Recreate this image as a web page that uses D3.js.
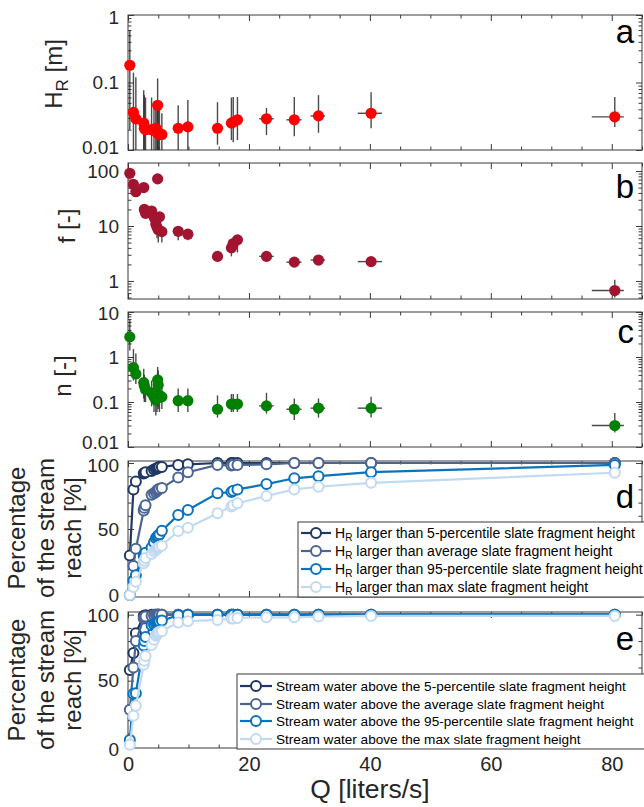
<!DOCTYPE html>
<html><head><meta charset="utf-8">
<script src="https://cdn.jsdelivr.net/npm/d3@7"></script>
<style>
body{margin:0;background:#fff}
svg{display:block;font-family:"Liberation Sans",Arial,Helvetica,sans-serif}
</style>
</head><body>
<svg id="chart" width="644" height="807"></svg>
<script>
// ---------------- DATA ----------------
const Q     = [0.3, 0.9, 1.3, 2.6, 2.7, 2.9, 3.9, 4.3, 4.6, 4.8, 4.9, 5.0, 5.2, 5.6, 8.3, 9.9, 14.8, 17.1, 17.4, 18.1, 22.9, 27.5, 31.5, 40.2, 80.5];
const qLo   = [0.3, 0.9, 1.3, 2.6, 2.7, 2.9, 3.9, 4.3, 4.6, 4.8, 4.9, 5.0, 5.2, 5.6, 8.3, 9.9, 14.8, 16.6, 17.1, 17.8, 21.7, 26.2, 30.2, 38.0, 76.7];
const qHi   = [0.3, 0.9, 1.3, 2.6, 2.7, 2.9, 3.9, 4.3, 4.6, 4.8, 4.9, 5.0, 5.2, 5.6, 8.3, 9.9, 14.8, 17.4, 17.7, 18.4, 24.1, 28.7, 32.6, 42.0, 82.0];

const HR    = [0.18, 0.036, 0.029, 0.025, 0.021, 0.020, 0.020, 0.0198, 0.021, 0.018, 0.046, 0.018, 0.017, 0.017, 0.021, 0.022, 0.021, 0.025, 0.026, 0.028, 0.029, 0.028, 0.032, 0.035, 0.031];
const HRlo  = [0.02, 0.005, 0.005, 0.005, 0.005, 0.005, 0.005, 0.005, 0.005, 0.005, 0.005, 0.005, 0.005, 0.005, 0.010, 0.010, 0.012, 0.014, 0.013, 0.014, 0.0166, 0.016, 0.018, 0.021, 0.022];
const HRhi  = [0.6, 0.14, 0.12, 0.077, 0.065, 0.06, 0.06, 0.05, 0.05, 0.05, 0.115, 0.045, 0.04, 0.035, 0.046, 0.055, 0.051, 0.06, 0.061, 0.061, 0.042, 0.061, 0.065, 0.072, 0.061];

const fVal  = [91, 57, 42, 50, 20, 17, 18.7, 14.4, 10.9, 9.5, 72, 8.5, 14.7, 7.9, 8.0, 7.1, 2.8, 4.0, 4.8, 5.6, 2.8, 2.2, 2.4, 2.25, 0.67];
const fLo   = [85, 50, 38, 45, 17, 15, 16, 12, 8, 6, 60, 5, 10, 5, 5.5, 5.5, 2.5, 2.8, 3.3, 3.3, 2.3, 1.8, 2.0, 2.0, 0.5];
const fHi   = [98, 62, 46, 55, 23, 19, 21, 16, 12, 11, 80, 10, 16, 9, 9, 8, 3.5, 4.5, 5.5, 6.0, 3.5, 2.6, 2.8, 2.5, 1.05];

const nVal  = [2.8, 0.58, 0.42, 0.27, 0.23, 0.19, 0.16, 0.13, 0.11, 0.13, 0.31, 0.24, 0.14, 0.13, 0.107, 0.107, 0.069, 0.09, 0.09, 0.09, 0.082, 0.069, 0.073, 0.073, 0.030];
const nLo   = [1.4, 0.3, 0.25, 0.12, 0.1, 0.1, 0.08, 0.06, 0.05, 0.06, 0.08, 0.07, 0.06, 0.07, 0.06, 0.06, 0.045, 0.06, 0.06, 0.06, 0.055, 0.04, 0.045, 0.045, 0.021];
const nHi   = [6.6, 1.5, 1.2, 0.55, 0.4, 0.35, 0.3, 0.3, 0.25, 0.25, 0.6, 0.5, 0.3, 0.25, 0.2, 0.2, 0.14, 0.15, 0.15, 0.15, 0.16, 0.12, 0.12, 0.13, 0.057];

// panel d: percentage of reach where H_R exceeds slate fragment height
const d5pct  = [30, 80, 86, 92, 92.5, 93, 94, 95, 95.5, 96, 96, 96.5, 97, 97, 98.5, 99, 100, 100, 100, 100, 100, 100, 100, 100, 100];
const dAvg   = [0, 22, 35, 64, 66, 68, 76, 77, 78, 79, 79.5, 80, 80.5, 81, 89, 93, 98.5, 98, 98.5, 98.5, 99, 100, 100, 100, 100];
const d95pct = [0, 11, 15, 29.5, 31, 32, 36, 40, 43, 44, 44.5, 45, 46, 48.7, 60.6, 64.4, 77, 78, 79, 80, 84, 88.4, 90, 93, 98.5];
const dMax   = [0, 6, 10, 24, 26, 28, 31, 33, 34, 35, 35.5, 36, 36.6, 37.4, 48.5, 51, 62, 67, 68, 69.5, 75, 80, 82, 85, 92.6];

// panel e: percentage of reach where stream water is above slate fragment height
const e5pct  = [58, 71, 86, 99, 99, 99.5, 100, 100, 100, 100, 100, 100, 100, 100, 100, 100, 100, 100, 100, 100, 100, 100, 100, 100, 100];
const eAvg   = [28, 60, 80, 97, 98, 98.5, 99, 99.5, 100, 100, 100, 100, 100, 100, 100, 100, 100, 100, 100, 100, 100, 100, 100, 100, 100];
const e95pct = [5, 40, 40.5, 76.7, 80, 83, 92, 92.5, 93, 93.5, 94, 94.5, 95, 95.5, 99.5, 100, 100, 100, 100, 100, 100, 100, 100, 100, 100];
const eMax   = [1.5, 23.5, 31, 62, 65, 68.6, 77, 81, 84, 85, 86, 86.5, 87, 87.4, 94, 95, 96, 97, 97, 97.5, 98, 98, 98.5, 99, 99];

const legendD = ["larger than 5-percentile slate fragment height", "larger than average slate fragment height",
                 "larger than 95-percentile slate fragment height", "larger than max slate fragment height"];
const legendE = ["Stream water above the 5-percentile slate fragment height", "Stream water above the average slate fragment height",
                 "Stream water above the 95-percentile slate fragment height", "Stream water above the max slate fragment height"];

const xTicks = [0, 20, 40, 60, 80];
const aTicks = [0.01, 0.1, 1];
const bTicks = [1, 10, 100];
const cTicks = [0.01, 0.1, 1, 10];
const pTicks = [0, 50, 100];

// ---------------- STYLE / LAYOUT ----------------
const seriesColors = ["#1f3864", "#4b6595", "#0b72bd", "#c2daf1"];
const AX = "#3a3a3a", TXT = "#262626";
const X0 = 128, X1 = 642;
const svg = d3.select("#chart");
const x = d3.scaleLinear().domain([0, 85]).range([X0, X1]);

const defsEl = svg.append("defs");

function makeY(type, domain, top, bottom) {
  return (type === "log" ? d3.scaleLog() : d3.scaleLinear()).domain(domain).range([bottom, top]);
}
function logMinor(domain) {
  const out = [];
  for (let e = -3; e <= 3; e++) for (let m = 2; m <= 9; m++) {
    const v = m * Math.pow(10, e);
    if (v >= domain[0] && v <= domain[1]) out.push(v);
  }
  return out;
}

// shiftTop / shiftBot: nudge of the tick label sitting at the top / bottom edge
function frame(id, y, top, bottom, major, minor, showX, shiftTop, shiftBot) {
  const g = svg.append("g");
  const fmt = d3.format("~g");
  const left = g.append("g").attr("transform", `translate(${X0},0)`)
    .call(d3.axisLeft(y).tickValues(major).tickSize(-6).tickPadding(9).tickFormat(fmt));
  left.selectAll("text").attr("font-size", 19).attr("fill", TXT).attr("font-family", "Liberation Sans, Arial, sans-serif")
    .attr("transform", d => {
      const py = y(d);
      if (Math.abs(py - top) < 3) return `translate(0,${shiftTop})`;
      if (Math.abs(py - bottom) < 3) return `translate(0,${shiftBot})`;
      return null;
    });
  g.append("g").attr("transform", `translate(${X0},0)`)
    .call(d3.axisLeft(y).tickValues(minor).tickSize(-3.5).tickFormat(""));
  g.append("g").attr("transform", `translate(${X1},0)`)
    .call(d3.axisRight(y).tickValues(major).tickSize(-6).tickFormat(""));
  g.append("g").attr("transform", `translate(${X1},0)`)
    .call(d3.axisRight(y).tickValues(minor).tickSize(-3.5).tickFormat(""));
  const xMinor = d3.range(5, 86, 5).filter(v => v % 20 !== 0);
  const bot = g.append("g").attr("transform", `translate(0,${bottom})`)
    .call(d3.axisBottom(x).tickValues(xTicks).tickSize(-6).tickPadding(9).tickFormat(showX ? fmt : ""));
  bot.selectAll("text").attr("font-size", 20).attr("fill", TXT).attr("font-family", "Liberation Sans, Arial, sans-serif");
  g.append("g").attr("transform", `translate(0,${bottom})`)
    .call(d3.axisBottom(x).tickValues(xMinor).tickSize(-3.5).tickFormat(""));
  g.append("g").attr("transform", `translate(0,${top})`)
    .call(d3.axisTop(x).tickValues(xTicks).tickSize(-6).tickFormat(""));
  g.append("g").attr("transform", `translate(0,${top})`)
    .call(d3.axisTop(x).tickValues(xMinor).tickSize(-3.5).tickFormat(""));
  g.selectAll(".domain").remove();
  g.selectAll(".tick line").attr("stroke", AX).attr("stroke-width", 1);
  g.append("rect").attr("x", X0).attr("y", top).attr("width", X1 - X0).attr("height", bottom - top)
    .attr("fill", "none").attr("stroke", AX).attr("stroke-width", 1);
  defsEl.append("clipPath").attr("id", "clip" + id)
    .append("rect").attr("x", X0).attr("y", top).attr("width", X1 - X0).attr("height", bottom - top);
}

function errorPanel(id, y, vals, lo, hi, color) {
  const g = svg.append("g");
  const eb = g.append("g").attr("clip-path", `url(#clip${id})`)
    .attr("stroke", "#2b2b2b").attr("stroke-width", 1.4).attr("stroke-opacity", 0.85);
  eb.selectAll("line.v").data(Q).join("line").attr("class", "v")
    .attr("x1", d => x(d)).attr("x2", d => x(d))
    .attr("y1", (d, i) => y(lo[i])).attr("y2", (d, i) => y(hi[i]));
  eb.selectAll("line.h").data(Q).join("line").attr("class", "h")
    .attr("x1", (d, i) => x(qLo[i])).attr("x2", (d, i) => x(qHi[i]))
    .attr("y1", (d, i) => y(vals[i])).attr("y2", (d, i) => y(vals[i]));
  g.selectAll("circle").data(Q).join("circle")
    .attr("cx", d => x(d)).attr("cy", (d, i) => y(vals[i])).attr("r", 5.6).attr("fill", color);
}

function linePanel(y, series) {
  const g = svg.append("g");
  series.forEach((s, k) => {
    const line = d3.line().x((d, i) => x(Q[i])).y(d => y(d));
    g.append("path").datum(s).attr("d", line).attr("fill", "none")
      .attr("stroke", seriesColors[k]).attr("stroke-width", 2.2);
    g.append("g").selectAll("circle").data(s).join("circle")
      .attr("cx", (d, i) => x(Q[i])).attr("cy", d => y(d)).attr("r", 5)
      .attr("fill", "#fff").attr("stroke", seriesColors[k]).attr("stroke-width", 2);
  });
}

function panelLetter(t, yb) {
  svg.append("text").attr("x", 634).attr("y", yb).attr("text-anchor", "end")
    .attr("font-size", 33).attr("fill", "#000").text(t);
}

function legend(bx, by, bh, texts, withHR, fs, symW, rowY) {
  const g = svg.append("g");
  g.append("rect").attr("x", bx).attr("y", by).attr("width", 700 - bx).attr("height", bh)
    .attr("fill", "#fff").attr("stroke", AX).attr("stroke-width", 1);
  texts.forEach((t, k) => {
    const yy = rowY[k];
    g.append("line").attr("x1", bx + 3).attr("x2", bx + 3 + symW).attr("y1", yy).attr("y2", yy)
      .attr("stroke", seriesColors[k]).attr("stroke-width", 2.2);
    g.append("circle").attr("cx", bx + 3 + symW / 2).attr("cy", yy).attr("r", 5)
      .attr("fill", "#fff").attr("stroke", seriesColors[k]).attr("stroke-width", 2);
    const tx = g.append("text").attr("x", bx + symW + 7).attr("y", yy + fs * 0.36)
      .attr("font-size", fs).attr("fill", "#000");
    if (withHR) {
      tx.append("tspan").text("H");
      tx.append("tspan").attr("font-size", fs * 0.72).attr("dy", 3).text("R");
      tx.append("tspan").attr("dy", -3).text(" " + t);
    } else tx.text(t);
  });
}

function yLabelLines(lines, cy, xs, fs) {
  lines.forEach((t, k) => {
    svg.append("text").attr("transform", `translate(${xs[k]},${cy}) rotate(-90)`)
      .attr("text-anchor", "middle").attr("font-size", fs).attr("fill", TXT).text(t);
  });
}

// ---------------- PANEL a ----------------
const ya = makeY("log", [0.01, 1], 15, 150);
frame("a", ya, 15, 150, aTicks, logMinor([0.01, 1]), false, 2, -3);
errorPanel("a", ya, HR, HRlo, HRhi, "#ff0000");
panelLetter("a", 43);
{
  const t = svg.append("text").attr("transform", "translate(62,74) rotate(-90)")
    .attr("text-anchor", "middle").attr("font-size", 24).attr("fill", TXT);
  t.append("tspan").text("H");
  t.append("tspan").attr("font-size", 17).attr("dy", 6).text("R");
  t.append("tspan").attr("dy", -6).text(" [m]");
}

// ---------------- PANEL b ----------------
const yb = makeY("log", [0.47, 140], 163, 299);
frame("b", yb, 163, 299, bTicks, logMinor([0.47, 140]), false, 0, 0);
errorPanel("b", yb, fVal, fLo, fHi, "#a2142f");
panelLetter("b", 198);
yLabelLines(["f [-]"], 226, [75], 24);

// ---------------- PANEL c ----------------
const yc = makeY("log", [0.01, 10], 312, 447);
frame("c", yc, 312, 447, cTicks, logMinor([0.01, 10]), false, 1, -5);
errorPanel("c", yc, nVal, nLo, nHi, "#008000");
panelLetter("c", 343);
yLabelLines(["n [-]"], 376, [71], 24);

// ---------------- PANEL d ----------------
const yd = makeY("lin", [-1.5, 101.5], 461, 597);
frame("d", yd, 461, 597, pTicks, d3.range(10, 100, 10).filter(v => v !== 50), false, 2, 0);
linePanel(yd, [d5pct, dAvg, d95pct, dMax]);
panelLetter("d", 508);
legend(298, 522, 75, legendD, true, 14, 30, [533, 551, 569, 587]);
yLabelLines(["Percentage", "of the stream", "reach [%]"], 528, [25, 54, 81], 24);

// ---------------- PANEL e ----------------
const ye = makeY("lin", [-1, 102], 612, 748);
frame("e", ye, 612, 748, pTicks, d3.range(10, 100, 10).filter(v => v !== 50), true, 1, 3);
linePanel(ye, [e5pct, eAvg, e95pct, eMax]);
panelLetter("e", 650);
legend(237, 674, 75, legendE, false, 13.6, 32, [686, 704, 721, 739]);
yLabelLines(["Percentage", "of the stream", "reach [%]"], 680, [25, 54, 81], 24);

// x label
svg.append("text").attr("x", 370).attr("y", 798).attr("text-anchor", "middle")
  .attr("font-size", 26.5).attr("fill", TXT).text("Q [liters/s]");
</script>
</body></html>
